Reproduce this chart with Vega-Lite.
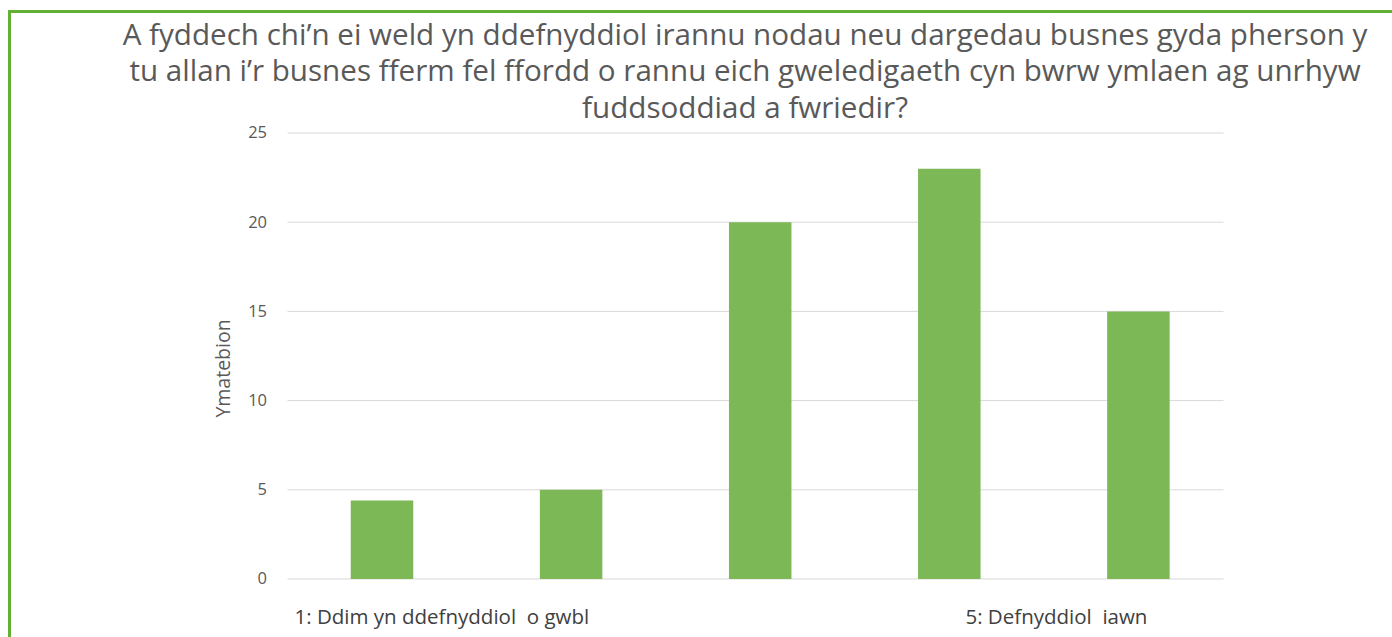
{
  "$schema": "https://vega.github.io/schema/vega-lite/v6.json",
  "autosize": {"type": "none"},
  "padding": {"left": 9.5, "top": 11.5, "right": -88.5, "bottom": -34.5},
  "width": 1471,
  "height": 660,
  "background": "white",
  "config": {
    "view": {"stroke": "#62b135", "strokeWidth": 3},
    "font": "Open Sans",
    "axisY": {
      "domain": false,
      "ticks": false,
      "grid": false,
      "offset": -275.5,
      "labelPadding": 18.5,
      "labelFontSize": 16.5,
      "labelColor": "#595959",
      "labelFont": "Open Sans",
      "titleFont": "Open Sans",
      "titleFontSize": 19.5,
      "titleFontWeight": "normal",
      "titleColor": "#595959",
      "titlePadding": 14,
      "titleY": 356.5
    }
  },
  "title": {
    "text": [
      "A fyddech chi’n ei weld yn ddefnyddiol irannu nodau neu dargedau busnes gyda pherson y",
      "tu allan i’r busnes fferm fel ffordd o rannu eich gweledigaeth cyn bwrw ymlaen ag unrhyw",
      "fuddsoddiad a fwriedir?"
    ],
    "font": "Open Sans",
    "fontSize": 29.6,
    "fontWeight": "normal",
    "color": "#595959",
    "anchor": "middle",
    "frame": "group",
    "lineHeight": 36.5,
    "baseline": "alphabetic",
    "offset": -136
  },
  "datasets": {
    "responses": [
      {"option": 1, "count": 4.4},
      {"option": 2, "count": 5},
      {"option": 3, "count": 20},
      {"option": 4, "count": 23},
      {"option": 5, "count": 15}
    ],
    "grid": [
      {"level": 0}, {"level": 5}, {"level": 10}, {"level": 15}, {"level": 20}, {"level": 25}
    ],
    "labels": [
      {"option": 1, "label": "1: Ddim yn ddefnyddiol \u00a0o gwbl"},
      {"option": 5, "label": "5: Defnyddiol \u00a0iawn"}
    ]
  },
  "layer": [
    {
      "data": {"name": "grid"},
      "mark": {"type": "rule", "color": "#d9d9d9", "strokeWidth": 1},
      "encoding": {
        "y": {
          "field": "level", "type": "quantitative",
          "scale": {"domain": [-5.185, 31.81], "nice": false, "zero": false},
          "axis": {"values": [0, 5, 10, 15, 20, 25]},
          "title": "Ymatebion"
        },
        "x": {
          "datum": 0.5, "type": "quantitative",
          "scale": {"domain": [-0.9433, 6.7825], "nice": false, "zero": false},
          "axis": null
        },
        "x2": {"datum": 5.45}
      }
    },
    {
      "data": {"name": "responses"},
      "mark": {"type": "bar", "color": "#7db857", "size": 62.5},
      "encoding": {
        "x": {"field": "option", "type": "quantitative", "axis": null},
        "y": {
          "field": "count", "type": "quantitative",
          "axis": {"values": [0, 5, 10, 15, 20, 25]},
          "title": "Ymatebion"
        }
      }
    },
    {
      "data": {"name": "labels"},
      "transform": [{"filter": "datum.option == 1"}],
      "mark": {"type": "text", "align": "left", "baseline": "middle", "dx": -87.5, "dy": 39, "fontSize": 20.5, "color": "#404040", "font": "Open Sans"},
      "encoding": {
        "x": {"field": "option", "type": "quantitative", "axis": null},
        "y": {"datum": 0, "type": "quantitative", "title": "Ymatebion", "axis": {"values": [0, 5, 10, 15, 20, 25]}},
        "text": {"field": "label"}
      }
    },
    {
      "data": {"name": "labels"},
      "transform": [{"filter": "datum.option == 5"}],
      "mark": {"type": "text", "align": "right", "baseline": "middle", "dx": 9, "dy": 39, "fontSize": 20.5, "color": "#404040", "font": "Open Sans"},
      "encoding": {
        "x": {"field": "option", "type": "quantitative", "axis": null},
        "y": {"datum": 0, "type": "quantitative", "title": "Ymatebion", "axis": {"values": [0, 5, 10, 15, 20, 25]}},
        "text": {"field": "label"}
      }
    },
    {
      "mark": {"type": "rule", "color": "#d9d9d9", "strokeWidth": 1},
      "encoding": {
        "x": {"datum": 0.015, "type": "quantitative", "axis": null},
        "x2": {"datum": 0.546},
        "y": {"datum": -2.94, "type": "quantitative", "title": "Ymatebion", "axis": {"values": [0, 5, 10, 15, 20, 25]}}
      }
    },
    {
      "mark": {"type": "rule", "color": "#d9d9d9", "strokeWidth": 1},
      "encoding": {
        "x": {"datum": 4.30, "type": "quantitative", "axis": null},
        "x2": {"datum": 5.45},
        "y": {"datum": -2.94, "type": "quantitative", "title": "Ymatebion", "axis": {"values": [0, 5, 10, 15, 20, 25]}}
      }
    }
  ]
}
